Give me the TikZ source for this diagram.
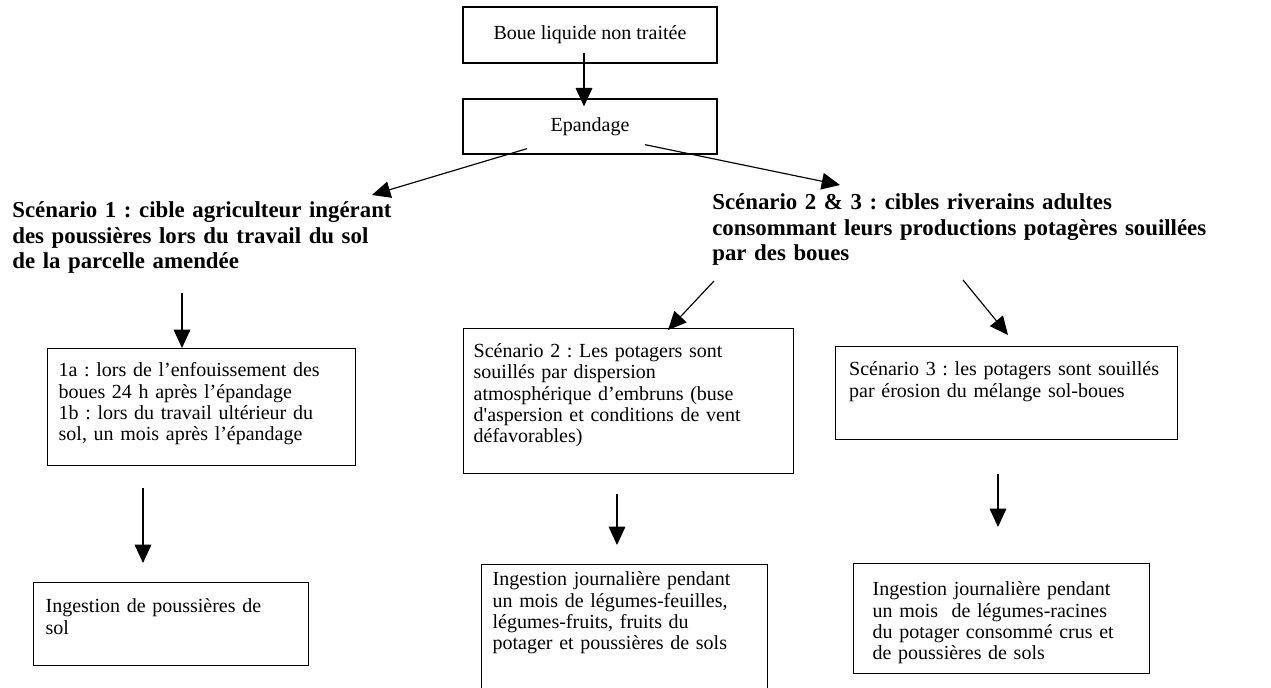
\documentclass[tikz,border=0pt]{standalone}
\usepackage{fontspec}
\setmainfont{Liberation Serif}[Ligatures=TeXOff]
\usetikzlibrary{arrows.meta, calc}
\tikzset{>={Triangle[length=11pt,width=10pt]}, % solid black heads
x=0.6pt, y=-0.6pt, % one unit is one pixel of the scan, y goes down
link/.style={->, line width=0.7pt}, % the arrows between the boxes
box/.style={draw, line width=0.8pt, anchor=north west, align=left, inner ysep=0pt,
  font=\frenchspacing\fontsize{12}{12.8}\selectfont}, % text is kept at the top of the box
title/.style={anchor=base west, align=left, inner sep=0pt,
  font=\frenchspacing\fontsize{13.7}{15.3}\selectfont\bfseries}, % the scenario headings
}

\begin{document}
\begin{tikzpicture}
  \useasboundingbox (0,0) rectangle (1271,688);

  \node[box, anchor=center, align=center, minimum width=152.4pt, minimum height=33.6pt] (boue) at (590,35) {Boue liquide non traitée};
  \node[box, anchor=center, align=center, minimum width=152.4pt, minimum height=33pt] (epandage) at (590,126.5) {Epandage};

  \node[title, text width=252pt] (s1) at (12,218) {Scénario 1 : cible agriculteur ingérant\\ des poussières lors du travail du sol\\ de la parcelle amendée};
  \node[title, text width=312pt] (s23) at (712,210) {Scénario 2 \& 3 : cibles riverains adultes\\ consommant leurs productions potagères souillées\\ par des boues};

  \node[box, text width=171.6pt, inner xsep=6.6pt, text height=16.8pt, text depth=53.4pt] (sc1) at (47,348)
    {1a : lors de l’enfouissement des\\ boues 24 h après l’épandage\\ 1b : lors du travail ultérieur du\\ sol, un mois après l’épandage};
  \node[box, text width=186pt, inner xsep=6pt, text height=17.4pt, text depth=69.6pt] (sc2) at (463,328)
    {Scénario 2 : Les potagers sont\\ souillés par dispersion\\ atmosphérique d’embruns (buse\\ d'aspersion et conditions de vent\\ défavorables)};
  \node[box, text width=189pt, inner xsep=8.1pt, text height=17.4pt, text depth=38.4pt] (sc3) at (835,346)
    {Scénario 3 : les potagers sont souillés\\ par érosion du mélange sol-boues};

  \node[box, text width=150.6pt, inner xsep=7.2pt, text height=18pt, text depth=31.8pt] (ing1) at (33,582)
    {Ingestion de poussières de\\ sol};
  \node[box, text width=158.4pt, inner xsep=6.6pt, text height=12.6pt, text depth=69pt] (ing2) at (481,564)
    {Ingestion journalière pendant\\ un mois de légumes-feuilles,\\ légumes-fruits, fruits du\\ potager et poussières de sols};
  \node[box, text width=154.8pt, inner xsep=11.4pt, text height=19.2pt, text depth=46.8pt] (ing3) at (853,563)
    {Ingestion journalière pendant\\ un mois\ \ de légumes-racines\\ du potager consommé crus et\\ de poussières de sols};

  \draw[link] ($(boue.south)+(-6,-11)$) -- ($(epandage.north)+(-6,8)$);
  \draw[link] ($(epandage.south)+(-63,-6)$) -- ($(s1.base west)+(360,-23)$);
  \draw[link] ($(epandage.south)+(55,-10)$) -- ($(s23.base west)+(128,-25)$);

  \draw[link] ($(s1.base west)+(170,75)$) -- ($(sc1.north west)+(135,0)$);
  \draw[link] ($(s23.base west)+(2,71)$) -- ($(sc2.north west)+(205,2)$);
  \draw[link] ($(s23.base west)+(251,70)$) -- ($(sc3.north west)+(173,-11)$);

  \draw[link] ($(sc1.south west)+(96,22)$) -- ($(ing1.north west)+(110,-19)$);
  \draw[link] ($(sc2.south west)+(154,20)$) -- ($(ing2.north west)+(136,-19)$);
  \draw[link] ($(sc3.south west)+(163,34)$) -- ($(ing3.north west)+(145,-36)$);
\end{tikzpicture}
\end{document}
